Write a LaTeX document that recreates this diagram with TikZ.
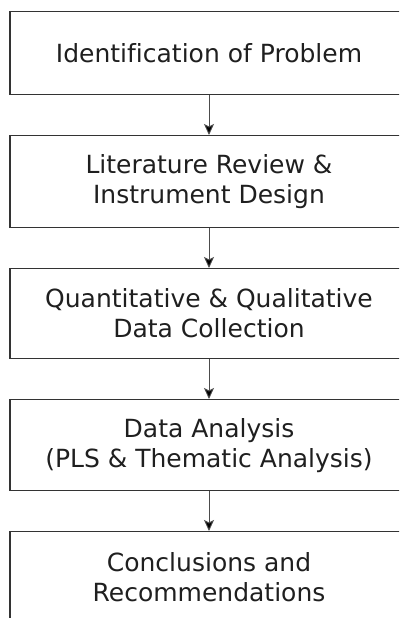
\documentclass[tikz,border=0pt]{standalone}
\usepackage{fontspec}
\setmainfont[Ligatures=NoCommon]{DejaVu Sans}
\usetikzlibrary{arrows.meta}
\begin{document}
\begin{tikzpicture}[x=1pt,y=-1pt,
  stepbox/.style={draw=black!80, line width=1.3pt, minimum width=398pt, anchor=north, inner sep=0pt, align=center, font=\fontsize{25}{30}\selectfont, text=black!88},
  flowarrow/.style={draw=black!70, line width=0.9pt, -{Stealth[length=11pt,width=10pt,inset=2.5pt,fill=black]}}]
\useasboundingbox (0,0) rectangle (399,618);
\clip (0,0) rectangle (399,618);
\node[stepbox, minimum height=83pt] (b1) at (209,11) {Identification of Problem};
\node[stepbox, minimum height=92pt] (b2) at (209,135) {Literature Review \&\\Instrument Design};
\node[stepbox, minimum height=90pt] (b3) at (209,268) {Quantitative \& Qualitative\\Data Collection};
\node[stepbox, minimum height=91pt] (b4) at (209,399) {Data Analysis\\(PLS \& Thematic Analysis)};
\node[stepbox, minimum height=92pt] (b5) at (209,531) {Conclusions and\\Recommendations};
\draw[flowarrow] (b1.south) -- (b2.north);
\draw[flowarrow] (b2.south) -- (b3.north);
\draw[flowarrow] (b3.south) -- (b4.north);
\draw[flowarrow] (b4.south) -- (b5.north);
\end{tikzpicture}
\end{document}
